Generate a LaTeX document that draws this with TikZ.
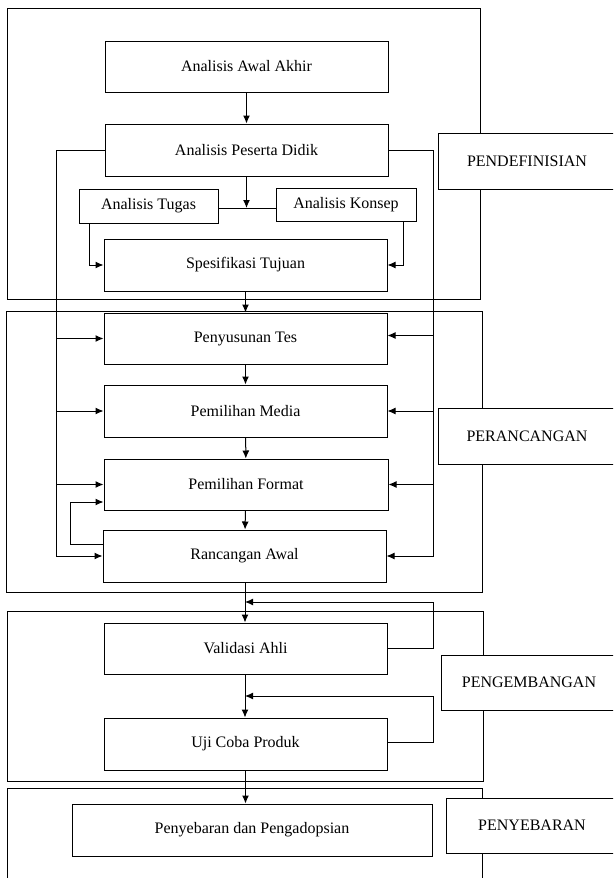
\documentclass[tikz,border=0pt]{standalone}
\usepackage{fontspec}
\setmainfont{Liberation Serif}
\usetikzlibrary{arrows.meta}
\tikzset{>={Latex[width=7pt,length=8pt]}}
\tikzset{
  stepbox/.style={draw, line width=1pt, fill=white, rectangle, inner sep=0pt,
    minimum width=283pt, minimum height=52pt, font=\fontsize{16}{19}\selectfont},
  phasebox/.style={draw, line width=1pt, fill=white, rectangle, inner sep=0pt,
    minimum height=56pt, font=\fontsize{16}{19}\selectfont},
  frame/.style={draw, line width=1pt},
  link/.style={line width=1pt}
}

\begin{document}
\begin{tikzpicture}[x=1pt, y=-1pt]

  \useasboundingbox (0,0) rectangle (613,878);
  \clip (0,0) rectangle (613,878);

  %% phase frames
  \draw[frame] (7,8) rectangle (480,299);
  \draw[frame] (6,311) rectangle (482,592);
  \draw[frame] (7,611) rectangle (483,781);
  \draw[frame] (7,788) rectangle (482,900);

  %% phase labels
  \node[phasebox, minimum width=178pt] (pendef) at (527,161) {PENDEFINISIAN};
  \node[phasebox, minimum width=178pt] (peranc) at (527,436) {PERANCANGAN};
  \node[phasebox, minimum width=176pt, minimum height=55pt] (pengem) at (529,682.5) {PENGEMBANGAN};
  \node[phasebox, minimum width=172pt, minimum height=55pt] (penyeb) at (532,825.5) {PENYEBARAN};

  %% steps
  \node[stepbox, minimum height=51pt] (awal) at (246.5,66.5) {Analisis Awal Akhir};
  \node[stepbox] (peserta) at (246.5,150) {Analisis Peserta Didik};
  \node[stepbox, minimum width=139pt, minimum height=34pt] (tugas) at (148.5,206) {Analisis Tugas};
  \node[stepbox, minimum width=140pt, minimum height=33pt] (konsep) at (346,204.5) {Analisis Konsep};
  \node[stepbox] (tujuan) at (245.5,265) {Spesifikasi Tujuan};
  \node[stepbox, minimum height=51pt] (tes) at (245.5,338.5) {Penyusunan Tes};
  \node[stepbox] (media) at (245.5,411) {Pemilihan Media};
  \node[stepbox, minimum width=284pt, minimum height=51pt] (format) at (246,484.5) {Pemilihan Format};
  \node[stepbox] (rancangan) at (244.5,556) {Rancangan Awal};
  \node[stepbox, minimum height=51pt] (validasi) at (245.5,648.5) {Validasi Ahli};
  \node[stepbox] (uji) at (245.5,744) {Uji Coba Produk};
  \node[stepbox, minimum width=360pt] (sebar) at (252,830) {Penyebaran dan Pengadopsian};

  \coordinate (lb) at (56,0);
  \coordinate (rb) at (433,0);
  \coordinate (jn) at (246.5,208);
  \coordinate (fbv) at (245,602);
  \coordinate (fbu) at (245,696);

  %% main flow
  \draw[link, ->] (awal) -- (peserta);
  \draw[link, ->] (peserta) -- (jn);
  \draw[link] (tugas.east |- jn) -- (konsep.west |- jn);
  \draw[link, ->] ([xshift=11pt]tugas.south west) |- (tujuan.west);
  \draw[link, ->] ([xshift=-13pt]konsep.south east) |- (tujuan.east);
  \draw[link, ->] (tujuan) -- (tes);
  \draw[link, ->] (tes) -- (media);
  \draw[link, ->] (media) -- (format);
  \draw[link, ->] (format) -- (rancangan);
  \draw[link, ->] (rancangan.south -| fbv) -- (validasi.north -| fbv);
  \draw[link, ->] (validasi.south -| fbv) -- (uji.north -| fbv);
  \draw[link, ->] (uji.south) -- (uji.south |- sebar.north);

  %% left bus
  \draw[link, ->] (peserta.west) -- (peserta.west -| lb) -- (rancangan.west -| lb) -- (rancangan.west);
  \draw[link, ->] (tes.west -| lb) -- (tes.west);
  \draw[link, ->] (media.west -| lb) -- (media.west);
  \draw[link, ->] (format.west -| lb) -- (format.west);

  %% right bus
  \draw[link, ->] (peserta.east) -- (peserta.east -| rb) -- (rancangan.east -| rb) -- (rancangan.east);
  \draw[link, ->] ([yshift=3pt]tes.east -| rb) -- ([yshift=3pt]tes.east);
  \draw[link, ->] (media.east -| rb) -- (media.east);
  \draw[link, ->] (format.east -| rb) -- (format.east);

  %% loops
  \draw[link, ->] ([yshift=12pt]rancangan.west) -- ++(-32,0) |- ([yshift=-17.5pt]format.west);
  \draw[link, ->] (validasi.east) -- (validasi.east -| rb) -- (rb |- fbv) -- (fbv);
  \draw[link, ->] ([yshift=2pt]uji.east) -- ([yshift=2pt]uji.east -| rb) -- (rb |- fbu) -- (fbu);

\end{tikzpicture}
\end{document}
